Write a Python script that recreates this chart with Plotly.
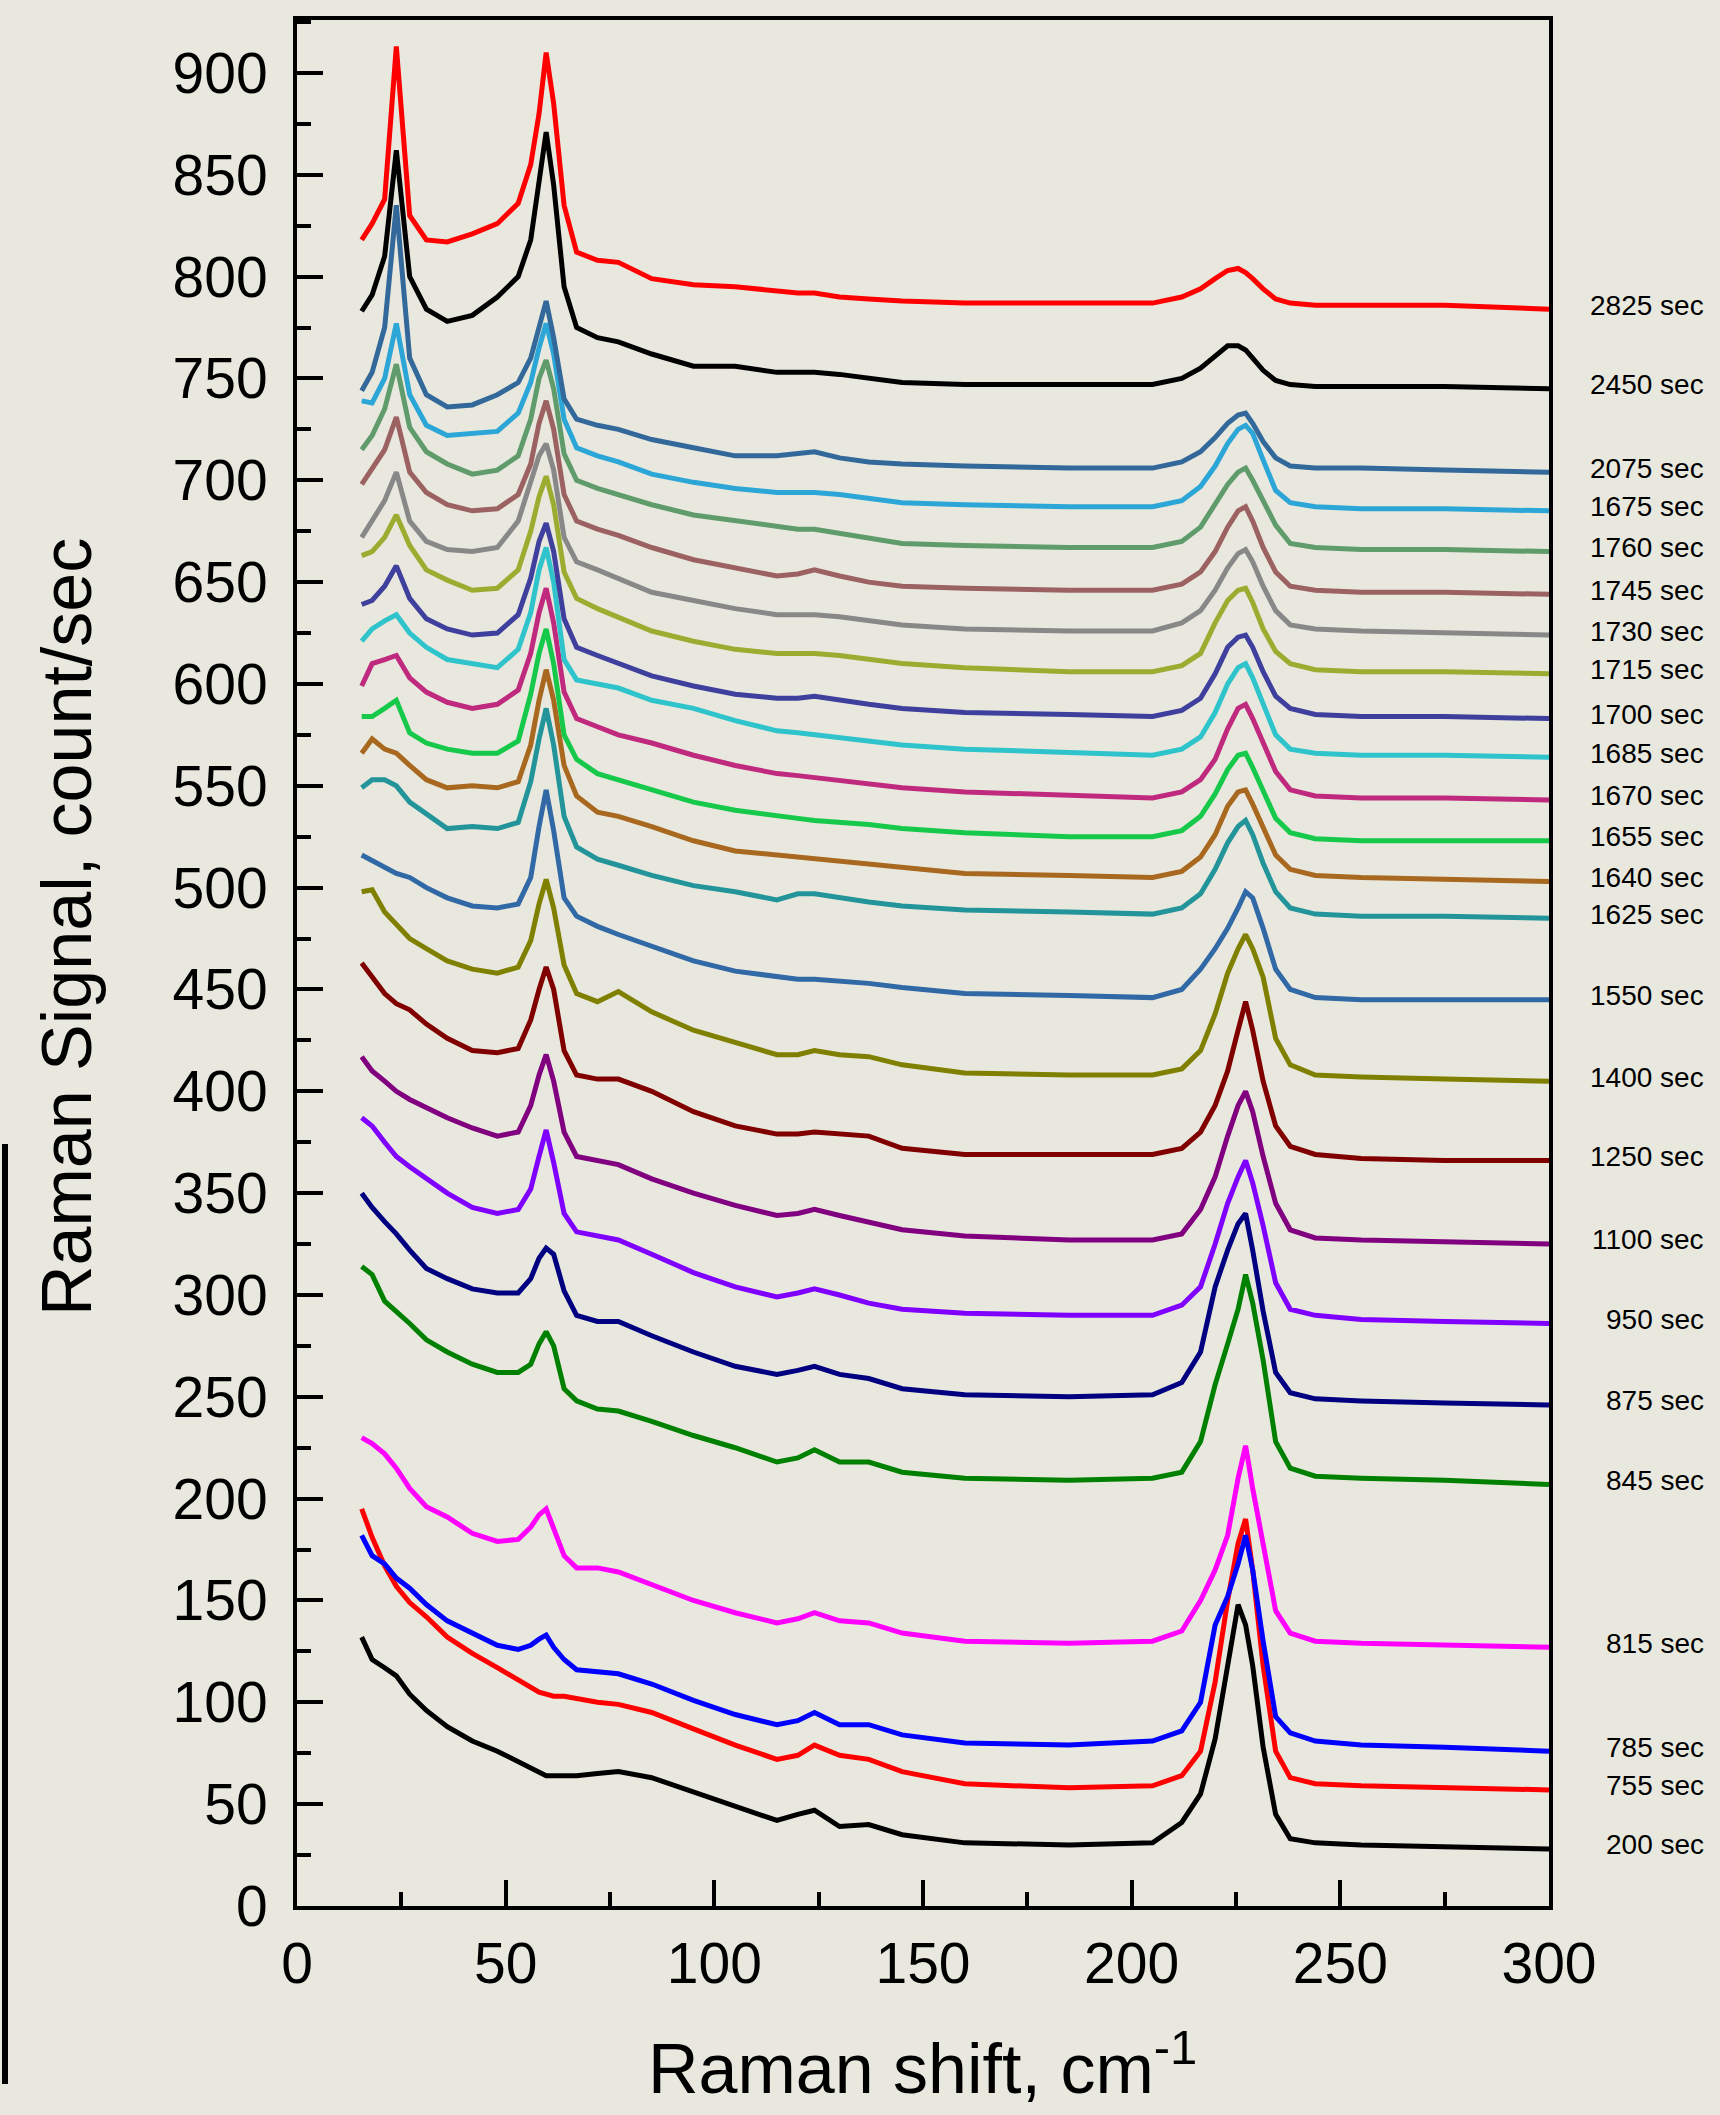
import plotly.graph_objects as go

# Raman shift grid (cm^-1)
X_SHIFT = [15.5, 18, 21, 23.8, 27, 31, 36, 42, 48, 53, 56, 58, 59.7, 61.5, 64, 67, 72, 77, 85, 95,
           105, 115, 120, 124, 130, 137, 145, 160, 185, 205, 212, 216.5, 220, 223, 225.5, 227.3,
           229, 231.5, 234.5, 238, 244, 255, 275, 300]

# Spectra (count/sec), bottom to top
s200 = [132,121,117,113,104,96,88,81,76,71,68,66,64,64,64,64,65,66,63,56,49,42,45,47,39,40,35,31,30,31,
        41,55,82,118,148,138,118,78,45,33,31,30,29,28]
s755 = [195,181,167,157,149,142,132,124,117,111,107,105,104,103,103,102,100,99,95,87,79,72,74,79,74,72,66,60,58,59,
        64,76,110,150,178,190,165,118,76,63,60,59,58,57]
s785 = [182,172,168,161,156,148,140,134,128,126,128,131,133,127,121,116,115,114,109,101,94,89,91,95,89,89,84,80,79,81,
        86,100,138,152,168,182,165,130,93,85,81,79,78,76]
s815 = [230,227,222,215,205,196,191,183,179,180,186,192,195,186,172,166,166,164,158,150,144,139,141,144,140,139,134,130,129,130,
        135,150,165,182,210,226,205,178,145,134,130,129,128,127]
s845 = [314,310,297,292,286,278,272,266,262,262,266,276,282,275,254,248,244,243,238,231,225,218,220,224,218,218,213,210,209,210,
        213,228,256,276,293,310,296,268,228,215,211,210,209,207]
s875 = [350,343,336,330,322,313,308,303,301,301,308,318,323,320,302,290,287,287,280,272,265,261,263,265,261,259,254,251,250,251,
        257,272,304,322,335,340,322,292,262,252,249,248,247,246]
s950 = [387,383,375,368,363,357,350,343,340,342,352,368,381,365,340,331,329,327,320,311,304,299,301,303,300,296,293,291,290,290,
        295,304,325,345,358,366,355,334,306,293,290,288,287,286]
s1100 = [417,410,405,400,396,392,387,382,378,380,393,408,418,405,380,368,366,364,357,350,344,339,340,342,339,336,332,329,327,327,
         330,342,358,378,393,400,390,368,345,332,328,327,326,325]
s1250 = [463,456,448,443,440,433,426,420,419,421,435,450,461,450,420,408,406,406,400,390,383,379,379,380,379,378,372,369,369,369,
         372,380,393,410,430,444,430,405,383,373,369,367,366,366]
s1400 = [498,499,488,482,475,470,464,460,458,461,474,492,504,490,462,448,444,449,439,430,424,418,418,420,418,417,413,409,408,408,
         411,420,438,458,470,477,470,456,426,413,408,407,406,405]
s1550 = [516,513,510,507,505,500,495,491,490,492,505,530,548,528,495,486,481,477,471,464,459,456,455,455,454,453,451,448,447,446,
         450,460,470,480,490,498,495,480,460,450,446,445,445,445]
s1625 = [549,553,553,550,542,536,529,530,529,532,552,573,588,570,535,520,514,511,506,501,498,494,497,497,495,493,491,489,488,487,
         490,497,509,522,530,533,526,512,498,490,487,486,486,485]
s1640 = [566,573,568,566,560,553,549,550,549,552,570,592,607,592,560,545,537,535,530,523,518,516,515,514,513,512,510,507,506,505,
         508,515,526,540,547,548,541,530,516,509,506,505,504,503]
s1655 = [584,584,588,592,576,571,568,566,566,572,595,615,627,610,575,563,556,553,548,542,538,535,534,533,532,531,529,527,525,525,
         528,535,546,558,565,566,559,547,534,527,524,523,523,523]
s1670 = [599,610,612,614,603,596,591,588,590,597,615,635,647,630,596,583,579,575,571,565,560,556,555,554,553,551,549,547,545,544,
         547,553,563,578,588,590,583,571,557,548,545,544,544,543]
s1685 = [621,627,631,634,625,618,612,610,608,617,635,656,667,650,612,602,600,598,592,588,582,577,576,575,574,572,570,568,566,565,
         568,574,586,600,608,610,603,590,575,568,566,565,565,564]
s1700 = [639,641,648,658,642,632,627,624,625,634,652,670,679,665,632,618,614,610,604,599,595,593,593,594,592,590,588,586,585,584,
         587,593,605,618,623,624,618,606,594,588,585,584,584,583]
s1715 = [663,665,672,683,668,656,651,646,647,656,675,692,702,688,655,642,637,633,626,621,617,615,615,615,614,612,610,608,606,606,
         609,615,630,641,646,647,640,627,616,610,607,606,606,605]
s1730 = [672,680,690,704,680,670,666,665,667,680,700,712,718,705,672,660,656,652,645,641,637,634,634,634,633,631,629,627,626,626,
         630,636,646,657,664,666,660,648,636,629,627,626,625,624]
s1745 = [698,706,715,731,704,694,688,685,686,693,708,728,739,725,693,680,676,673,667,661,657,653,654,656,653,650,648,647,646,646,
         649,655,665,677,685,687,680,667,655,648,646,645,645,644]
s1760 = [715,722,735,757,726,714,708,703,705,712,730,750,759,745,713,700,696,693,688,683,680,677,676,676,674,672,669,668,667,667,
         670,677,688,698,704,706,700,690,678,669,667,666,666,665]
s1675 = [739,738,750,777,742,727,722,723,724,733,748,765,777,762,730,716,712,709,703,699,696,694,694,694,693,691,689,688,687,687,
         690,697,707,718,725,727,723,710,695,689,687,686,686,685]
s2075 = [744,753,775,835,760,742,736,737,742,748,760,775,788,770,740,730,727,725,720,716,712,712,713,714,711,709,708,707,706,706,
         709,714,721,728,732,733,728,719,711,707,706,706,705,704]
s2450 = [783,791,810,862,800,784,778,781,790,800,818,845,871,845,795,775,770,768,762,756,756,753,753,753,752,750,748,747,747,747,
         750,755,761,766,766,764,760,754,749,747,746,746,746,745]
s2825 = [818,826,838,913,830,818,817,821,826,836,855,880,910,885,835,812,808,807,799,796,795,793,792,792,790,789,788,787,787,787,
         790,794,799,803,804,802,799,794,789,787,786,786,786,784]

TIMES = ["200", "755", "785", "815", "845", "875", "950", "1100", "1250", "1400", "1550", "1625", "1640",
         "1655", "1670", "1685", "1700", "1715", "1730", "1745", "1760", "1675", "2075", "2450", "2825"]
SERIES = [s200, s755, s785, s815, s845, s875, s950, s1100, s1250, s1400, s1550, s1625, s1640,
          s1655, s1670, s1685, s1700, s1715, s1730, s1745, s1760, s1675, s2075, s2450, s2825]

COLORS = {
    "200": "#000000", "755": "#ff0000", "785": "#0000ff", "815": "#ff00ff", "845": "#008000",
    "875": "#000080", "950": "#8000ff", "1100": "#800080", "1250": "#800000", "1400": "#808000",
    "1550": "#3168a6", "1625": "#23959a", "1640": "#a8681f", "1655": "#16c94a", "1670": "#c02a7e",
    "1685": "#2fc3cb", "1700": "#3f3f9e", "1715": "#9aad31", "1730": "#888888", "1745": "#9c6262",
    "1760": "#5f9b6b", "1675": "#2ca6d6", "2075": "#33689a", "2450": "#000000", "2825": "#ff0000",
}

for s in SERIES:
    assert len(s) == len(X_SHIFT), len(s)

BG = "#e9e8de"
FONT = "Liberation Sans, Arial, Helvetica, sans-serif"

W, H = 1720, 2115
L, R, T, B = 297, 1549, 20, 1906  # plot area in pixels

def px_x(p):
    return (p - L) / (R - L)

def px_y(p):
    return (B - p) / (B - T)

fig = go.Figure()
for t, vals in zip(TIMES, SERIES):
    fig.add_trace(go.Scatter(x=X_SHIFT, y=vals, mode="lines",
                             line=dict(color=COLORS[t], width=5), name=f"{t} sec",
                             hoverinfo="skip"))

annotations = []
for t, vals in zip(TIMES, SERIES):
    annotations.append(dict(text=f"{t} sec", x=px_x(1706), xref="paper", y=vals[-1] + 2, yref="y",
                            xanchor="right", yanchor="middle", showarrow=False,
                            font=dict(family=FONT, size=28, color="black")))

annotations.append(dict(text="Raman Signal, count/sec", textangle=-90,
                        x=px_x(67), y=px_y(927), xref="paper", yref="paper",
                        xanchor="center", yanchor="middle", showarrow=False,
                        font=dict(family=FONT, size=70, color="black")))
annotations.append(dict(text="Raman shift, cm<sup>-1</sup>",
                        x=px_x(922), y=px_y(2064), xref="paper", yref="paper",
                        xanchor="center", yanchor="middle", showarrow=False,
                        font=dict(family=FONT, size=70, color="black")))

axis_common = dict(
    showline=True, linewidth=4, linecolor="black", mirror=True,
    ticks="inside", ticklen=26, tickwidth=4, tickcolor="black",
    showgrid=False, zeroline=False,
    tickfont=dict(family=FONT, size=57, color="black"),
    minor=dict(ticks="inside", ticklen=14, tickwidth=4, tickcolor="black", showgrid=False),
)

fig.update_xaxes(range=[0, 300], tick0=0, dtick=50, ticklabelstandoff=5, **axis_common)
fig.update_yaxes(range=[0, 926], tick0=0, dtick=50, ticklabelstandoff=14, **axis_common)
fig.update_xaxes(minor_dtick=25)
fig.update_yaxes(minor_dtick=25)

fig.update_layout(
    width=W, height=H,
    margin=dict(l=L, r=W - R, t=T, b=H - B, autoexpand=False),
    paper_bgcolor=BG, plot_bgcolor=BG,
    showlegend=False,
    annotations=annotations,
    shapes=[dict(type="line", xref="paper", yref="paper",
                 x0=px_x(5), x1=px_x(5), y0=px_y(1144), y1=px_y(2084),
                 line=dict(color="black", width=6))],
)

fig.write_html("out.html")
